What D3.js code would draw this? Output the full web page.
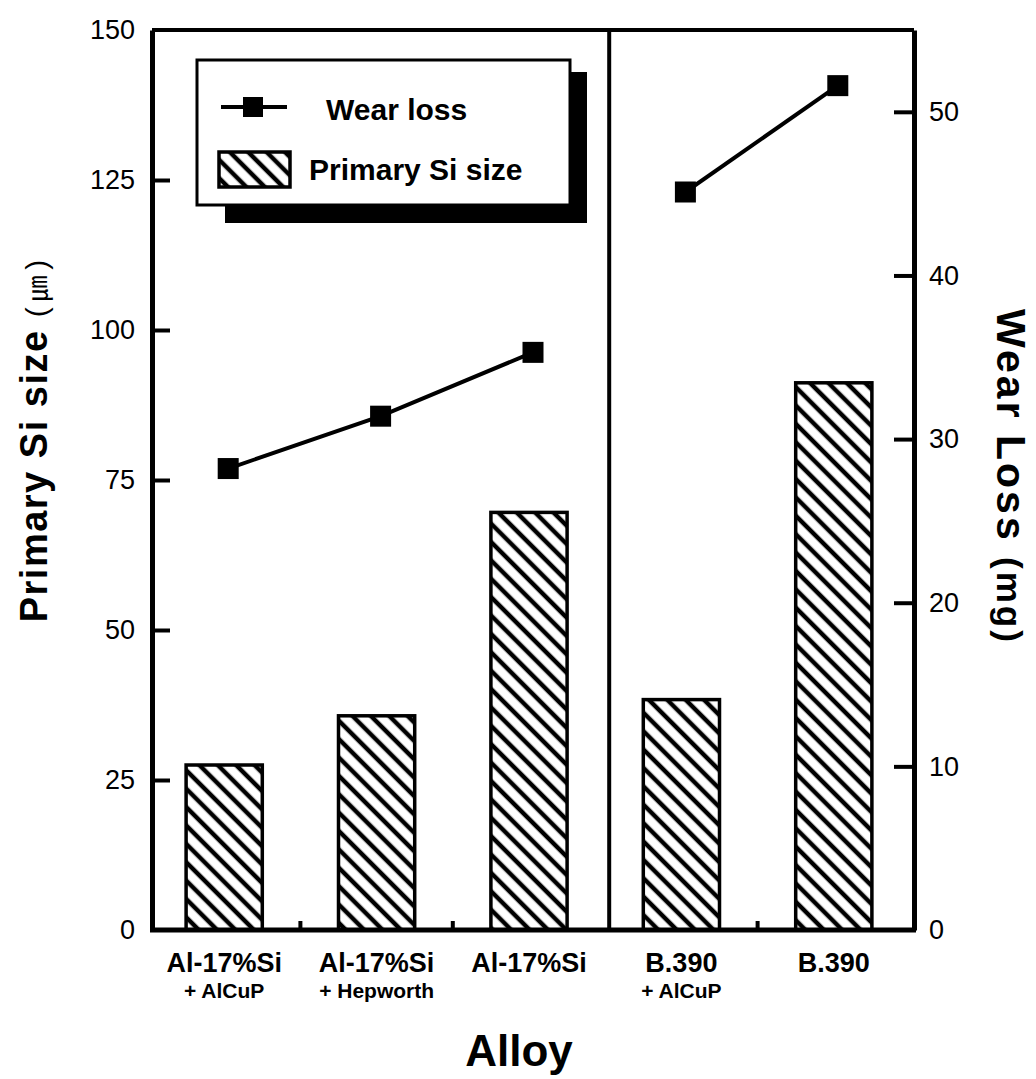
<!DOCTYPE html>
<html>
<head>
<meta charset="utf-8">
<script src="https://cdn.jsdelivr.net/npm/d3@7"></script>
<style>
    body { margin: 0; background: #fff; }
    svg text { font-family: "Liberation Sans", Arial, sans-serif; fill: #000; }
</style>
</head>
<body>
<div id="chart"></div>
<script>
const categories = ["Al-17%Si + AlCuP", "Al-17%Si + Hepworth", "Al-17%Si", "B.390 + AlCuP", "B.390"];
const alloyNames = ["Al-17%Si", "Al-17%Si", "Al-17%Si", "B.390", "B.390"];
const alloyAdditions = ["+ AlCuP", "+ Hepworth", "", "+ AlCuP", ""];
const siSize = [27.5, 35.7, 69.6, 38.4, 91.2];
const wearLoss = [28.2, 31.4, 35.3, 45.1, 51.6];
const leftTicks = [0, 25, 50, 75, 100, 125, 150];
const rightTicks = [0, 10, 20, 30, 40, 50];

function drawWearChart() {
    let margin = { top: 30, right: 122, bottom: 149, left: 152 };
    let W = 1036, H = 1079;
    let x0 = margin.left, x1 = W - margin.right;
    let yTop = margin.top, yBot = H - margin.bottom;

    var svg = d3.select("#chart").
    append("svg").
    attr("width", W).
    attr("height", H);

    // hatch pattern  "\\\\"
    svg.append("defs").
    append("pattern").
    attr("id", "hatch").
    attr("patternUnits", "userSpaceOnUse").
    attr("width", 13).
    attr("height", 13).
    attr("patternTransform", "rotate(-45)").
    call(p => {
        p.append("rect").attr("width", 13).attr("height", 13).attr("fill", "#fff");
        p.append("line").attr("x1", 3).attr("y1", 0).attr("x2", 3).attr("y2", 13).
        attr("stroke", "#000").attr("stroke-width", 4.5);
    });

    var xBar = d3.scaleBand().
    domain(categories).
    range([x0 - 4, x1 - 4]).
    paddingInner(0.5).
    paddingOuter(0.25);

    var xPt = d3.scalePoint().
    domain(categories).
    range([x0, x1]).
    padding(0.5);

    var yL = d3.scaleLinear().domain([0, 150]).range([yBot, yTop]);
    var yR = d3.scaleLinear().domain([0, 55]).range([yBot, yTop]);

    // bars
    svg.selectAll(".bar").
    data(categories).
    enter().
    append("rect").
    attr("class", "bar").
    attr("x", d => xBar(d)).
    attr("width", xBar.bandwidth()).
    attr("y", (d, i) => yL(siSize[i])).
    attr("height", (d, i) => yBot - yL(siSize[i])).
    attr("fill", "url(#hatch)").
    attr("stroke", "#000").
    attr("stroke-width", 3.5);

    // frame: top, bottom, divider
    svg.append("line").attr("x1", x0).attr("x2", x1).attr("y1", yTop).attr("y2", yTop).
    attr("stroke", "#000").attr("stroke-width", 4);
    svg.append("line").attr("x1", x0 - 2).attr("x2", x1 + 2).attr("y1", yBot).attr("y2", yBot).
    attr("stroke", "#000").attr("stroke-width", 5);

    let divX = (xPt(categories[2]) + xPt(categories[3])) / 2;
    svg.append("line").attr("x1", divX).attr("x2", divX).attr("y1", yTop).attr("y2", yBot).
    attr("stroke", "#000").attr("stroke-width", 4);

    // small ticks between categories on bottom axis
    let bounds = [0, 1, 3].map(i => (xBar(categories[i]) + xBar(categories[i + 1]) + xBar.bandwidth()) / 2);
    svg.selectAll(".btick").
    data(bounds).
    enter().
    append("line").
    attr("x1", d => d).attr("x2", d => d).
    attr("y1", yBot).attr("y2", yBot - 9).
    attr("stroke", "#000").attr("stroke-width", 4);

    // left axis
    var gL = svg.append("g").
    attr("transform", "translate(" + x0 + ",0)").
    call(d3.axisLeft(yL).tickValues(leftTicks).tickSizeInner(-18).tickSizeOuter(0).tickPadding(17));
    gL.select(".domain").attr("stroke-width", 5);
    gL.selectAll(".tick line").attr("stroke-width", 4);
    gL.selectAll(".tick").filter(d => d === 0 || d === 150).select("line").remove();
    gL.selectAll("text").attr("font-size", 27).attr("font-family", "Liberation Sans, Arial, sans-serif");

    // right axis
    var gR = svg.append("g").
    attr("transform", "translate(" + x1 + ",0)").
    call(d3.axisRight(yR).tickValues(rightTicks).tickSizeInner(-20).tickSizeOuter(0).tickPadding(15));
    gR.select(".domain").attr("stroke-width", 5);
    gR.selectAll(".tick line").attr("stroke-width", 4);
    gR.selectAll(".tick").filter(d => d === 0).select("line").remove();
    gR.selectAll("text").attr("font-size", 27).attr("font-family", "Liberation Sans, Arial, sans-serif");

    // wear loss line (two groups, split at the divider) + markers
    [[0, 3], [3, 5]].forEach(seg => {
        let pts = wearLoss.slice(seg[0], seg[1]);
        svg.append("path").
        datum(pts).
        attr("d", d3.line().x((d, i) => xPt(categories[seg[0] + i])).y(d => yR(d))).
        attr("fill", "none").
        attr("stroke", "#000").
        attr("stroke-width", 4);
    });

    svg.selectAll(".marker").
    data(wearLoss).
    enter().
    append("rect").
    attr("class", "marker").
    attr("x", (d, i) => xPt(categories[i]) - 10.5).
    attr("y", d => yR(d) - 10.5).
    attr("width", 21).
    attr("height", 21).
    attr("fill", "#000");

    // category labels
    var cats = svg.selectAll(".cat").
    data(categories).
    enter().
    append("g").
    attr("class", "cat").
    attr("transform", d => "translate(" + (xBar(d) + xBar.bandwidth() / 2) + ",0)");

    cats.append("text").
    attr("y", 972).
    attr("text-anchor", "middle").
    attr("font-size", 27).
    attr("font-weight", "bold").
    text((d, i) => alloyNames[i]);

    cats.append("text").
    attr("y", 998).
    attr("text-anchor", "middle").
    attr("font-size", 21).
    attr("font-weight", "bold").
    text((d, i) => alloyAdditions[i]);

    // axis titles
    svg.append("text").
    attr("x", 519).
    attr("y", 1066).
    attr("text-anchor", "middle").
    attr("font-size", 44).
    attr("font-weight", "bold").
    text("Alloy");

    var tl = svg.append("text").
    attr("transform", "translate(47,441) rotate(-90)").
    attr("text-anchor", "middle").
    attr("font-size", 38).
    attr("font-weight", "bold");
    tl.append("tspan").attr("letter-spacing", 1.5).text("Primary Si size ");
    tl.append("tspan").attr("font-weight", "normal").attr("font-size", 30).text("(");
    tl.append("tspan").attr("font-weight", "normal").attr("font-size", 26).
    attr("font-family", "Noto Sans CJK KR, DejaVu Sans, sans-serif").text(" ㎛ ");
    tl.append("tspan").attr("font-weight", "normal").attr("font-size", 30).text(")");

    var tr = svg.append("text").
    attr("transform", "translate(997,477) rotate(90)").
    attr("text-anchor", "middle").
    attr("font-size", 41).
    attr("letter-spacing", 3).
    attr("font-weight", "bold");
    tr.append("tspan").text("Wear Loss ");
    tr.append("tspan").attr("font-size", 35).text("(mg)");

    // legend
    var lg = svg.append("g").attr("class", "legend");
    lg.append("rect").attr("x", 225).attr("y", 72).attr("width", 362).attr("height", 151).attr("fill", "#000");
    lg.append("rect").attr("x", 197).attr("y", 60).attr("width", 373).attr("height", 145).
    attr("fill", "#fff").attr("stroke", "#000").attr("stroke-width", 3);

    lg.append("line").attr("x1", 221).attr("x2", 287).attr("y1", 107).attr("y2", 107).
    attr("stroke", "#000").attr("stroke-width", 4);
    lg.append("rect").attr("x", 243).attr("y", 97).attr("width", 20).attr("height", 20).attr("fill", "#000");
    lg.append("text").attr("x", 326).attr("y", 120).attr("font-size", 30).attr("font-weight", "bold").
    text("Wear loss");

    lg.append("rect").attr("x", 219).attr("y", 152).attr("width", 71).attr("height", 35).
    attr("fill", "url(#hatch)").attr("stroke", "#000").attr("stroke-width", 3.5);
    lg.append("text").attr("x", 309).attr("y", 180).attr("font-size", 30).attr("font-weight", "bold").
    text("Primary Si size");
}

document.addEventListener('DOMContentLoaded', () => {
    drawWearChart();
});
</script>
</body>
</html>
